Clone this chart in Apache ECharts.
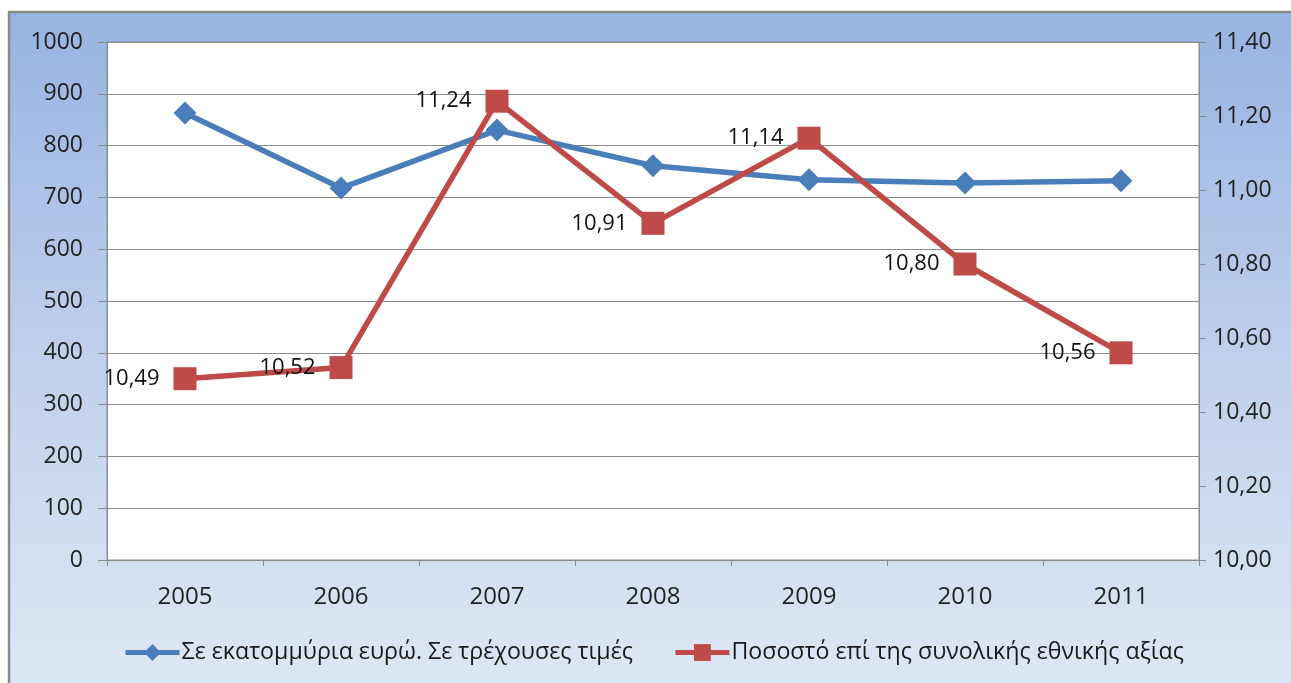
<!DOCTYPE html>
<html>
<head>
<meta charset="utf-8">
<script src="https://cdn.jsdelivr.net/npm/echarts@6/dist/echarts.min.js"></script>
<style>
  html, body { margin: 0; padding: 0; background: #ffffff; }
  #chart { width: 1291px; height: 683px; }
</style>
</head>
<body>
<div id="chart"></div>
<script>
// Years on the category axis
const years = ['2005', '2006', '2007', '2008', '2009', '2010', '2011'];
// Value in million euros, current prices (left axis)
const valueMillions = [863, 718, 830, 761, 734, 728, 732];
// Share of total national value, % (right axis)
const sharePercent = [10.49, 10.52, 11.24, 10.91, 11.14, 10.80, 10.56];

const seriesNames = [
  'Σε εκατομμύρια ευρώ. Σε τρέχουσες τιμές',
  'Ποσοστό επί της συνολικής εθνικής αξίας'
];

const fontFamily = '"Open Sans", "Noto Sans", sans-serif';
const comma = v => v.toFixed(2).replace('.', ',');

const chart = echarts.init(document.getElementById('chart'), null, { renderer: 'canvas' });

chart.setOption({
  animation: false,
  backgroundColor: '#ffffff',
  textStyle: { fontFamily },
  graphic: [{
    type: 'rect',
    z: -10,
    shape: { x: 9, y: 12, width: 1300, height: 700 },
    style: {
      fill: new echarts.graphic.LinearGradient(0, 0, 0, 1, [
        { offset: 0, color: '#97b3e1' },
        { offset: 0.55, color: '#c3d3ed' },
        { offset: 0.92, color: '#dce5f4' },
        { offset: 1, color: '#dde6f4' }
      ]),
      stroke: '#8a8a8a',
      lineWidth: 2.5
    }
  }],
  grid: {
    left: 107, top: 42, width: 1092, height: 518,
    show: true, backgroundColor: '#ffffff', borderColor: '#8c8c8c', borderWidth: 1
  },
  legend: {
    bottom: 14,
    left: 118,
    itemWidth: 54,
    itemHeight: 21,
    itemGap: 40,
    lineStyle: { width: 5 },
    textStyle: { fontSize: 23.2, color: '#1a1a1a', fontFamily, padding: [0, 0, 0, -3] },
    data: seriesNames
  },
  xAxis: {
    type: 'category',
    data: years,
    boundaryGap: true,
    axisLine: { lineStyle: { color: '#8c8c8c', width: 1 } },
    axisTick: { show: true, length: 6, lineStyle: { color: '#8c8c8c' } },
    axisLabel: { fontSize: 24, color: '#222', margin: 25, fontFamily }
  },
  yAxis: [{
    type: 'value',
    min: 0, max: 1000, interval: 100,
    axisLine: { show: true, lineStyle: { color: '#8c8c8c' } },
    axisTick: { show: true, length: 9, lineStyle: { color: '#8c8c8c' } },
    axisLabel: { fontSize: 23, color: '#222', margin: 24, fontFamily, formatter: v => String(v) },
    splitLine: { lineStyle: { color: '#8c8c8c', width: 1 } }
  }, {
    type: 'value',
    position: 'right',
    min: 10, max: 11.4, interval: 0.2,
    axisLine: { show: true, lineStyle: { color: '#8c8c8c' } },
    axisTick: { show: true, length: 7, lineStyle: { color: '#8c8c8c' } },
    axisLabel: { fontSize: 23, color: '#222', margin: 14, fontFamily, formatter: v => comma(v) },
    splitLine: { show: false }
  }],
  series: [{
    name: seriesNames[0],
    type: 'line',
    yAxisIndex: 0,
    data: valueMillions,
    symbol: 'diamond',
    symbolSize: 23,
    itemStyle: { color: '#4a7ebb' },
    lineStyle: { color: '#4a7ebb', width: 5.5 },
    z: 3
  }, {
    name: seriesNames[1],
    type: 'line',
    yAxisIndex: 1,
    data: sharePercent,
    symbol: 'rect',
    symbolSize: 23,
    itemStyle: { color: '#be4b48' },
    lineStyle: { color: '#be4b48', width: 5.5 },
    z: 4,
    label: {
      show: true,
      position: 'left',
      distance: 14,
      fontSize: 22,
      color: '#111',
      fontFamily,
      formatter: p => comma(p.value)
    }
  }]
});
</script>
</body>
</html>
